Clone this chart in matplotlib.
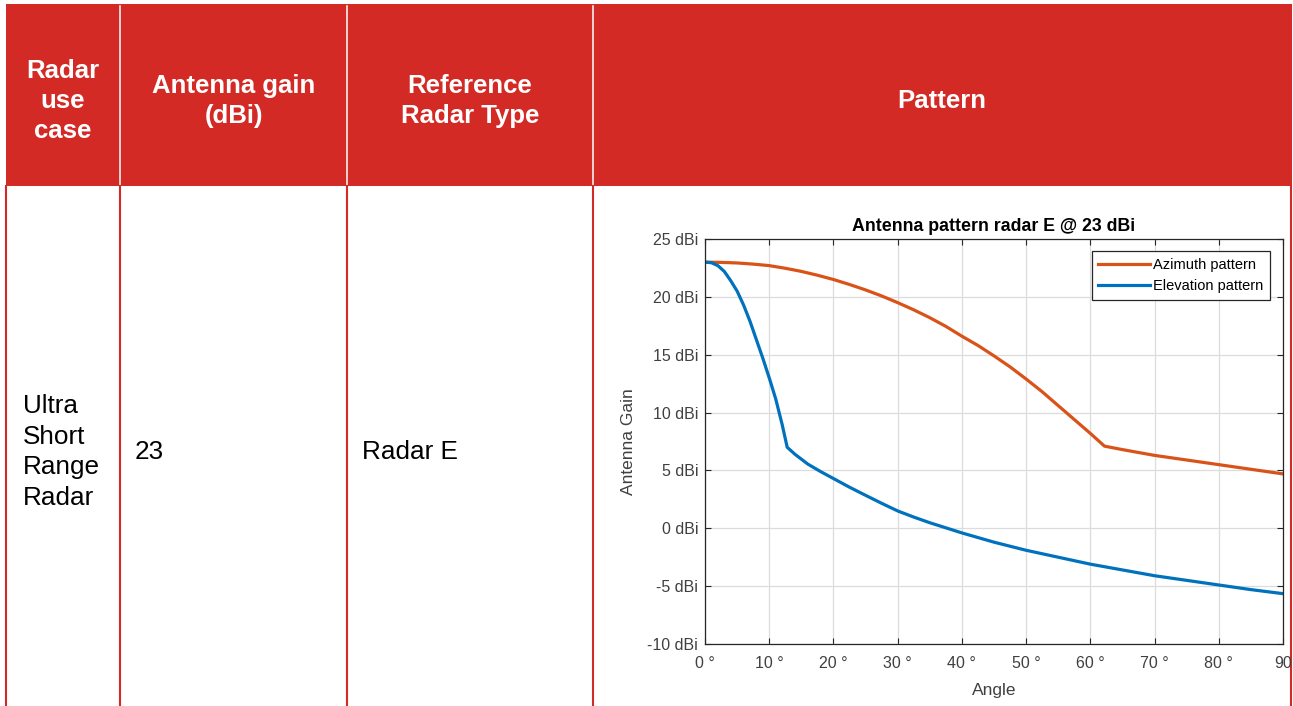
import matplotlib.pyplot as plt

plt.rcParams['font.family'] = ['Liberation Sans', 'DejaVu Sans']

# table text
header_labels = ['Radar\nuse\ncase', 'Antenna gain\n(dBi)', 'Reference\nRadar Type', 'Pattern']
row_labels = ['Ultra\nShort\nRange\nRadar', '23', 'Radar E']

# antenna pattern (angle in degrees, gain in dBi)
az_angle = [0, 2.5, 5, 7.5, 10, 12.5, 15, 17.5, 20, 22.5, 25, 27.5, 30, 32.5, 35, 37.5,
            40, 42.5, 45, 47.5, 50, 52.5, 55, 57.5, 60, 62.2, 65, 70, 75, 80, 85, 90]
az_gain = [23.0, 22.98, 22.93, 22.83, 22.7, 22.47, 22.2, 21.87, 21.5, 21.07, 20.6, 20.08,
           19.5, 18.88, 18.2, 17.45, 16.6, 15.8, 14.9, 13.95, 12.9, 11.8, 10.6, 9.4, 8.2,
           7.1, 6.8, 6.3, 5.9, 5.5, 5.1, 4.7]

el_angle = [0, 1, 2, 3, 4, 5, 6, 7, 8, 9, 10, 11, 12, 12.8, 14, 16, 18, 20, 22.5, 25,
            27.5, 30, 32.5, 35, 40, 45, 50, 55, 60, 65, 70, 75, 80, 85, 90]
el_gain = [23.0, 22.95, 22.7, 22.2, 21.4, 20.5, 19.3, 17.9, 16.3, 14.7, 13.0, 11.2, 9.0,
           7.0, 6.4, 5.55, 4.9, 4.3, 3.55, 2.85, 2.16, 1.5, 0.97, 0.48, -0.4, -1.2, -1.9,
           -2.5, -3.1, -3.6, -4.1, -4.5, -4.9, -5.3, -5.65]

y_ticks = [-10, -5, 0, 5, 10, 15, 20, 25]
y_tick_labels = ['-10 dBi', '-5 dBi', '0 dBi', '5 dBi', '10 dBi', '15 dBi', '20 dBi', '25 dBi']
x_ticks = [0, 10, 20, 30, 40, 50, 60, 70, 80, 90]
x_tick_labels = ['0 °', '10 °', '20 °', '30 °', '40 °', '50 °', '60 °', '70 °', '80 °', '90']

RED = '#d42a25'
W, H = 1293, 706

fig = plt.figure(figsize=(W / 100, H / 100), dpi=100)

# --- the table, drawn in pixel coordinates ---
tab = fig.add_axes([0, 0, 1, 1])
tab.set_xlim(0, W)
tab.set_ylim(H, 0)
tab.axis('off')

col_edges = [6, 120, 347, 593, 1291]
head_top, head_bot = 4, 186

tab.add_patch(plt.Rectangle((6, head_top), 1292 - 6, head_bot - head_top,
                            facecolor=RED, edgecolor='none'))
for x in col_edges[1:-1]:
    tab.plot([x, x], [6, head_bot], color='white', lw=1.1)
for x in col_edges:
    tab.plot([x, x], [head_bot, H], color=RED, lw=1.5)

for i, lab in enumerate(header_labels):
    cx = (col_edges[i] + col_edges[i + 1]) / 2
    tab.text(cx, 101, lab, color='white', fontsize=18.5, fontweight='bold',
             ha='center', va='center', multialignment='center', linespacing=1.3)

tab.text(23, 452, row_labels[0], fontsize=18.8, ha='left', va='center', linespacing=1.34)
tab.text(135, 452, row_labels[1], fontsize=18.8, ha='left', va='center')
tab.text(362, 452, row_labels[2], fontsize=18.8, ha='left', va='center')

# --- the antenna pattern chart ---
ax = fig.add_axes([705 / W, 1 - 644 / H, 578 / W, 405 / H])
ax.plot(az_angle, az_gain, color='#D95319', lw=2.3, label='Azimuth pattern')
ax.plot(el_angle, el_gain, color='#0072BD', lw=2.3, label='Elevation pattern')

ax.set_xlim(0, 90)
ax.set_ylim(-10, 25)
ax.set_xticks(x_ticks)
ax.set_xticklabels(x_tick_labels)
ax.set_yticks(y_ticks)
ax.set_yticklabels(y_tick_labels)
ax.grid(True, color='#dcdcdc', lw=0.9)
ax.set_axisbelow(True)
ax.tick_params(direction='in', top=True, right=True, length=4, width=0.8,
               colors='#262626', labelsize=11.5, labelcolor='#404040')
ax.tick_params(axis='x', pad=9)
ax.tick_params(axis='y', pad=5)
for s in ax.spines.values():
    s.set_color('#262626')
    s.set_linewidth(0.9)

ax.set_title('Antenna pattern radar E @ 23 dBi', fontsize=12.8, fontweight='bold', pad=6)
ax.set_xlabel('Angle', fontsize=12.5, color='#404040', labelpad=8)
ax.set_ylabel('Antenna Gain', fontsize=12.5, color='#404040', labelpad=8)

leg = ax.legend(loc='upper right', bbox_to_anchor=(0.9775, 0.970), borderaxespad=0,
                fontsize=10.5, frameon=True, fancybox=False, framealpha=1,
                handlelength=3.5, handletextpad=0.25, borderpad=0.45, labelspacing=0.5)
leg.get_frame().set_edgecolor('#262626')
leg.get_frame().set_linewidth(0.9)

fig.savefig('out.png', dpi=100)
